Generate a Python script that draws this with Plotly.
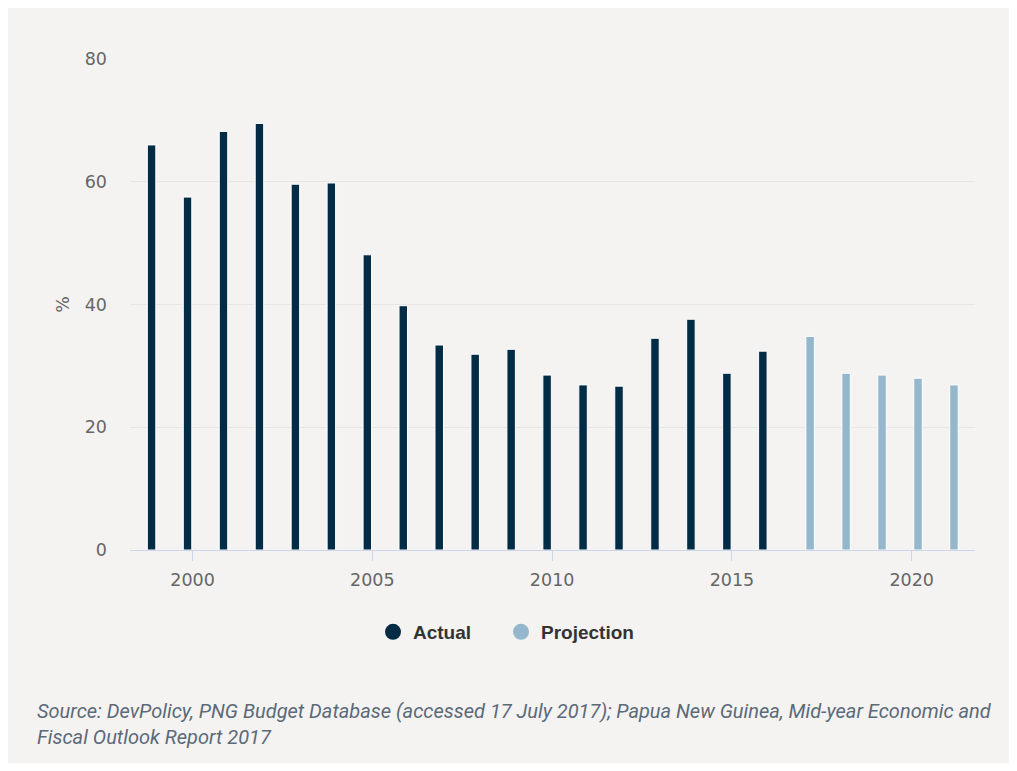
import plotly.graph_objects as go

years_actual = list(range(1999, 2017))
values_actual = [66.0, 57.5, 68.2, 69.5, 59.6, 59.8, 48.1, 39.8, 33.4, 31.9, 32.7,
                 28.5, 26.9, 26.7, 34.5, 37.6, 28.8, 32.4]
years_proj = list(range(2017, 2022))
values_proj = [34.8, 28.8, 28.5, 28.0, 26.9]

series_names = ["Actual", "Projection"]
y_ticks = [0, 20, 40, 60, 80]
x_ticks = [2000, 2005, 2010, 2015, 2020]
source_lines = [
    "Source: DevPolicy, PNG Budget Database (accessed 17 July 2017); Papua New Guinea, Mid-year Economic and",
    "Fiscal Outlook Report 2017",
]

C_ACT = "#022b45"
C_PROJ = "#95b7cb"
BG = "#f4f3f1"

OFF = 8  # page body margin
W, H = 1001, 755
L, T = 130 - OFF, 59 - OFF
R = W - (975 - OFF)
B = H - (550 - OFF)
PW, PH = W - L - R, H - T - B


def px_x(px):
    return (px - OFF - L) / PW


def px_y(py):
    return (H - B - (py - OFF)) / PH


fig = go.Figure()
fig.add_trace(go.Bar(x=years_actual, y=values_actual, width=0.236, offset=-0.258,
                     marker=dict(color=C_ACT, line=dict(color="white", width=1)),
                     showlegend=False, name=series_names[0]))
fig.add_trace(go.Bar(x=years_proj, y=values_proj, width=0.236, offset=0.057,
                     marker=dict(color=C_PROJ, line=dict(color="white", width=1)),
                     showlegend=False, name=series_names[1]))
for nm, c, lg in zip(series_names, [C_ACT, C_PROJ], ["legend", "legend2"]):
    fig.add_trace(go.Scatter(x=[None], y=[None], mode="markers", name=nm, legend=lg,
                             marker=dict(color=c, size=18, symbol="circle")))

fig.add_shape(type="rect", xref="paper", yref="paper", layer="below",
              x0=px_x(7), x1=px_x(1030), y0=px_y(765), y1=px_y(7),
              fillcolor=BG, line=dict(width=0))

for line, py in zip(source_lines, [711, 737]):
    fig.add_annotation(text=line, xref="paper", yref="paper", x=px_x(35), y=px_y(py),
                       xanchor="left", yanchor="middle", showarrow=False, align="left",
                       font=dict(family="Roboto", size=20, color="#5b6a79", style="italic"))

legend_style = dict(orientation="h", xanchor="left", y=px_y(632), yanchor="middle",
                    font=dict(family="Liberation Sans", size=19, color="#333333", weight="bold"),
                    bgcolor="rgba(0,0,0,0)", itemwidth=30)

fig.update_layout(
    width=W, height=H,
    margin=dict(l=L, r=R, t=T, b=B),
    paper_bgcolor="white", plot_bgcolor=BG,
    barmode="overlay",
    font=dict(family="DejaVu Sans", color="#666666", size=17.5),
    xaxis=dict(range=[1998.26, 2021.76], tickvals=x_ticks, showgrid=False,
               showline=True, linecolor="#ccd6eb", linewidth=1,
               ticks="outside", ticklen=10, tickcolor="#ccd6eb", zeroline=False,
               ticklabelstandoff=4,
               tickfont=dict(size=17.5, color="#666666")),
    yaxis=dict(range=[0, 80], tickvals=y_ticks, showgrid=True, gridcolor="#e6e6e6",
               gridwidth=1, zeroline=False, showline=False,
               ticklabelstandoff=22,
               tickfont=dict(size=17.5, color="#666666")),
    legend=dict(x=px_x(373), **legend_style),
    legend2=dict(x=px_x(501), **legend_style),
)
fig.update_yaxes(title=dict(text="%", standoff=10, font=dict(size=17.5, color="#666666")))

fig.write_html("out.html")
